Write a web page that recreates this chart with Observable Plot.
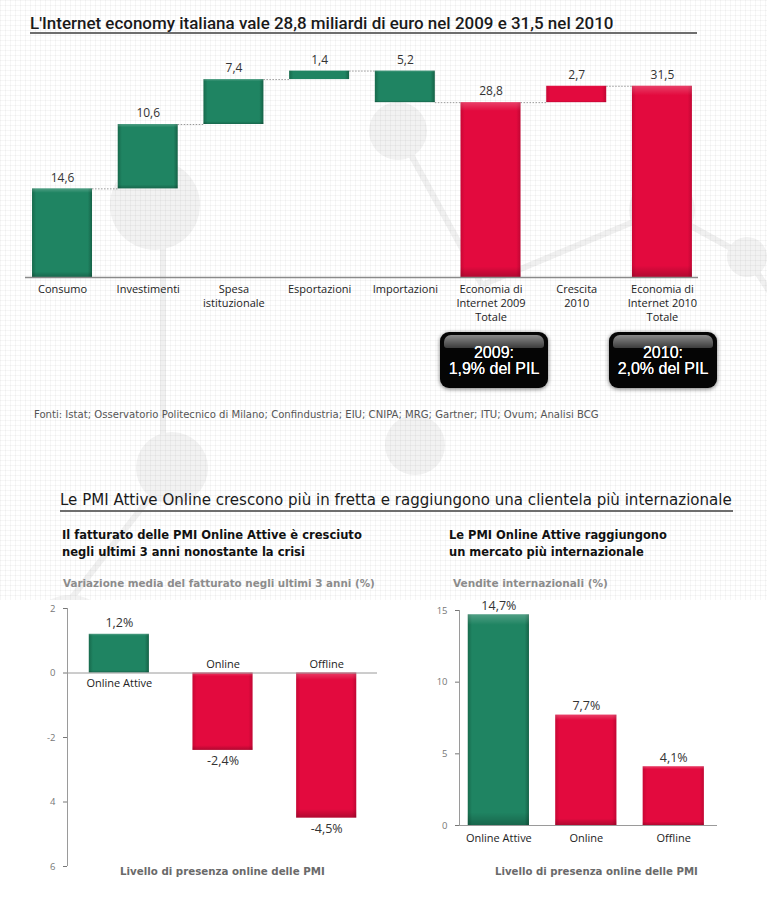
<!DOCTYPE html>
<html lang="it">
<head>
<meta charset="utf-8">
<script src="https://cdn.jsdelivr.net/npm/d3@7"></script>
<script src="https://cdn.jsdelivr.net/npm/@observablehq/plot@0.6"></script>
<style>
  html, body { margin: 0; padding: 0; background: #fff; }
  #page { position: relative; width: 767px; height: 897px; overflow: hidden; background: #fff; font-family: "Open Sans", sans-serif; }
  #grid { position: absolute; left: 0; top: 0; width: 767px; height: 600px;
    background-image: linear-gradient(to right, rgba(0,0,0,0.035) 1px, transparent 1px),
                      linear-gradient(to bottom, rgba(0,0,0,0.035) 1px, transparent 1px);
    background-size: 5px 5px; }
  #decor { position: absolute; left: 0; top: 0; }
  .txt { position: absolute; white-space: nowrap; }
  .title1 { font-family: Roboto, "Liberation Sans", sans-serif; font-weight: 500; font-size: 15px; line-height: 18px; color: #1a1a1a; }
  .rule { position: absolute; height: 2px; background: #6e6e6e; }
  .fonti { font-family: "DejaVu Sans Condensed", "DejaVu Sans", sans-serif; font-size: 10px; line-height: 12px; color: #555; }
  .title2 { font-family: "DejaVu Sans", sans-serif; font-size: 14px; line-height: 18px; color: #1a1a1a; }
  .sub { font-family: "DejaVu Sans Condensed", "DejaVu Sans", sans-serif; font-weight: bold; font-size: 12px; line-height: 17px; color: #111; }
  .unit { font-family: "DejaVu Sans", sans-serif; font-weight: bold; font-size: 9.5px; line-height: 12px; color: #8c8c8c; }
  .xtitle { font-family: "DejaVu Sans", sans-serif; font-weight: bold; font-size: 9.5px; line-height: 12px; color: #6a6a6a; }
  .pil { position: absolute; width: 108px; height: 56px; border-radius: 9px; background: #050505;
    box-shadow: 0 1px 4px rgba(0,0,0,0.55); color: #fff; font-family: "Liberation Sans", sans-serif;
    font-size: 16px; line-height: 15.5px; text-align: center; box-sizing: border-box; padding-top: 13px;
    text-shadow: 0 0 0.6px #fff; }
  .pil::before { content: ""; position: absolute; left: 4px; right: 4px; top: 3px; height: 13px; border-radius: 7px 7px 3px 3px;
    background: linear-gradient(#8a8a8a, #3c3c3c); }
  .pil span { position: relative; }
  .chart { position: absolute; }
</style>
</head>
<body>
<div id="page">
  <svg id="decor" width="767" height="600">
    <g fill="#f2f2f2" stroke="#f0f0f0" stroke-width="6">
      <line x1="163" y1="205" x2="163" y2="445"/>
      <line x1="175" y1="465" x2="70" y2="600"/>
      <line x1="398" y1="131" x2="482" y2="285"/>
      <line x1="482" y1="285" x2="662" y2="210"/>
      <line x1="662" y1="210" x2="747" y2="257"/>
      <line x1="747" y1="257" x2="775" y2="300"/>
      <circle cx="155" cy="205" r="45" stroke="none"/>
      <circle cx="398" cy="131" r="29" stroke="none"/>
      <circle cx="662" cy="210" r="33" stroke="none"/>
      <circle cx="747" cy="257" r="20" stroke="none"/>
      <circle cx="172" cy="468" r="36" stroke="none"/>
      <circle cx="415" cy="445" r="30" stroke="none"/>
      <circle cx="70" cy="640" r="45" stroke="none"/>
    </g>
  </svg>
  <div id="grid"></div>
  <svg width="0" height="0" style="position:absolute">
    <defs>
      <linearGradient id="barGreen" x1="0" x2="1" y1="0" y2="0">
        <stop offset="0" stop-color="#176a4c"/>
        <stop offset="0.07" stop-color="#1f8462"/>
        <stop offset="0.93" stop-color="#1f8462"/>
        <stop offset="1" stop-color="#166247"/>
      </linearGradient>
      <linearGradient id="barRed" x1="0" x2="1" y1="0" y2="0">
        <stop offset="0" stop-color="#c80735"/>
        <stop offset="0.07" stop-color="#e30a3e"/>
        <stop offset="0.93" stop-color="#e30a3e"/>
        <stop offset="1" stop-color="#c10633"/>
      </linearGradient>
      <linearGradient id="barShade" x1="0" x2="0" y1="0" y2="1">
        <stop offset="0" stop-color="#fff" stop-opacity="0.22"/>
        <stop offset="0.05" stop-color="#fff" stop-opacity="0"/>
        <stop offset="0.94" stop-color="#000" stop-opacity="0"/>
        <stop offset="1" stop-color="#000" stop-opacity="0.22"/>
      </linearGradient>
    </defs>
  </svg>

  <div class="txt title1" id="t1" style="left:30px; top:14px;">L'Internet economy italiana vale 28,8 miliardi di euro nel 2009 e 31,5 nel 2010</div>
  <div class="rule" style="left:30px; top:32px; width:667px;"></div>
  <div class="chart" id="waterfall" style="left:0; top:40px;"></div>
  <div class="pil" style="left:440px; top:332px;"><span>2009:<br>1,9% del PIL</span></div>
  <div class="pil" style="left:609px; top:332px;"><span>2010:<br>2,0% del PIL</span></div>
  <div class="txt fonti" id="fonti" style="left:34px; top:409px;">Fonti: Istat; Osservatorio Politecnico di Milano; Confindustria; EIU; CNIPA; MRG; Gartner; ITU; Ovum; Analisi BCG</div>

  <div class="txt title2" id="t2" style="left:60px; top:491px;">Le PMI Attive Online crescono più in fretta e raggiungono una clientela più internazionale</div>
  <div class="rule" style="left:60px; top:510px; width:673px;"></div>
  <div class="txt sub" id="subL" style="left:62px; top:526px;">Il fatturato delle PMI Online Attive è cresciuto<br>negli ultimi 3 anni nonostante la crisi</div>
  <div class="txt sub" id="subR" style="left:449px; top:526px;">Le PMI Online Attive raggiungono<br>un mercato più internazionale</div>
  <div class="txt unit" id="unitL" style="left:63px; top:577px;">Variazione media del fatturato negli ultimi 3 anni (%)</div>
  <div class="txt unit" id="unitR" style="left:453px; top:577px;">Vendite internazionali (%)</div>

  <div class="chart" id="growth" style="left:0; top:595px;"></div>
  <div class="chart" id="export" style="left:400px; top:595px;"></div>
  <div class="txt xtitle" id="xtL" style="left:120px; top:865px;">Livello di presenza online delle PMI</div>
  <div class="txt xtitle" id="xtR" style="left:495px; top:866px;">Livello di presenza online delle PMI</div>
</div>

<script>
// ---- Internet economy waterfall (miliardi di euro) ----
const wfCategories = [
  "Consumo", "Investimenti", "Spesa\nistituzionale", "Esportazioni", "Importazioni",
  "Economia di\nInternet 2009\nTotale", "Crescita\n2010", "Economia di\nInternet 2010\nTotale"
];
const wfValues = [14.6, 10.6, 7.4, 1.4, -5.2, 28.8, 2.7, 31.5];
const wfIsTotal = [false, false, false, false, false, true, false, true];
const wfSeries = ["componente", "componente", "componente", "componente", "componente", "economia", "economia", "economia"];

// ---- PMI charts ----
const pmiCategories = ["Online Attive", "Online", "Offline"];
const pmiSeries = ["attive", "tradizionale", "tradizionale"];
const revenueGrowth = [1.2, -2.4, -4.5];           // variazione media del fatturato (%)
const growthTicks = [2, 0, -2, -4, -6];
const growthTickLabels = ["2", "0", "-2", "4", "6"];
const exportShare = [14.7, 7.7, 4.1];              // vendite internazionali (%)
const exportTicks = [0, 5, 10, 15];

const GREEN = "url(#barGreen)";
const RED = "url(#barRed)";
const SHADE = "url(#barShade)";
const fmt = v => (v < 0 ? "-" : "") + Math.abs(v).toFixed(1).replace(".", ",");

// running totals for the waterfall
let level = 0;
const wfRows = wfValues.map((v, i) => {
  const start = wfIsTotal[i] ? 0 : level;
  const end = wfIsTotal[i] ? v : level + v;
  level = end;
  return {i, label: wfCategories[i], value: v, lo: Math.min(start, end), hi: Math.max(start, end), end, series: wfSeries[i]};
});
const wfHalf = 0.35;
const wfLinks = wfRows.slice(0, -1).map(d => ({x1: d.i + wfHalf, x2: d.i + 1 - wfHalf, y: d.end}));

const baseStyle = {background: "transparent", fontFamily: "'Open Sans', sans-serif", overflow: "visible"};

const waterfall = Plot.plot({
  width: 767, height: 290,
  marginLeft: 25, marginRight: 69, marginTop: 24.5, marginBottom: 53,
  x: {type: "linear", domain: [-0.432, 7.421], axis: null},
  y: {domain: [0, 35], axis: null},
  style: baseStyle,
  marks: [
    Plot.ruleY(wfLinks, {x1: "x1", x2: "x2", y: "y", stroke: "#9a9a9a", strokeWidth: 1, strokeDasharray: "1.5,1.5"}),
    Plot.rect(wfRows.filter(d => d.series === "componente"), {x1: d => d.i - wfHalf, x2: d => d.i + wfHalf, y1: "lo", y2: "hi", fill: GREEN}),
    Plot.rect(wfRows.filter(d => d.series === "economia"), {x1: d => d.i - wfHalf, x2: d => d.i + wfHalf, y1: "lo", y2: "hi", fill: RED}),
    Plot.rect(wfRows, {x1: d => d.i - wfHalf, x2: d => d.i + wfHalf, y1: "lo", y2: "hi", fill: SHADE}),
    Plot.ruleY([0], {stroke: "#8a8a8a", strokeWidth: 1.5}),
    Plot.text(wfRows, {x: "i", y: "hi", text: d => fmt(Math.abs(d.value)), dy: -11, fontSize: 12, fill: "#333"}),
    Plot.text(wfRows, {x: "i", y: 0, text: "label", lineAnchor: "top", dy: 6, lineHeight: 1.27, fontSize: 11, fill: "#222"})
  ]
});
document.getElementById("waterfall").append(waterfall);

// ---- revenue growth ----
const growthRows = pmiCategories.map((c, i) => ({i, c, v: revenueGrowth[i], series: pmiSeries[i]}));
const gHalf = 0.29;
const growth = Plot.plot({
  width: 390, height: 290,
  marginLeft: 67, marginRight: 13, marginTop: 13, marginBottom: 19,
  x: {type: "linear", domain: [-0.5, 2.49], axis: null},
  y: {domain: [-6, 2], axis: null},
  style: baseStyle,
  marks: [
    Plot.rect(growthRows.filter(d => d.series === "attive"), {x1: d => d.i - gHalf, x2: d => d.i + gHalf, y1: 0, y2: "v", fill: GREEN}),
    Plot.rect(growthRows.filter(d => d.series !== "attive"), {x1: d => d.i - gHalf, x2: d => d.i + gHalf, y1: 0, y2: "v", fill: RED}),
    Plot.rect(growthRows, {x1: d => d.i - gHalf, x2: d => d.i + gHalf, y1: 0, y2: "v", fill: SHADE}),
    Plot.ruleY([0], {stroke: "#9a9a9a", strokeWidth: 1}),
    Plot.ruleX([-0.5], {y1: -6, y2: 2, stroke: "#9a9a9a", strokeWidth: 1}),
    Plot.axisY({ticks: growthTicks, tickFormat: d => growthTickLabels[growthTicks.indexOf(d)], tickSize: 4, tickPadding: 8, fontSize: 9.5, color: "#777", label: null}),
    Plot.text(growthRows.filter(d => d.v >= 0), {x: "i", y: "v", text: d => fmt(d.v) + "%", dy: -11, fontSize: 12.5, fill: "#333"}),
    Plot.text(growthRows.filter(d => d.v < 0), {x: "i", y: "v", text: d => fmt(d.v) + "%", dy: 11, fontSize: 12.5, fill: "#333"}),
    Plot.text(growthRows.filter(d => d.v >= 0), {x: "i", y: 0, text: "c", dy: 10, fontSize: 11, fill: "#222"}),
    Plot.text(growthRows.filter(d => d.v < 0), {x: "i", y: 0, text: "c", dy: -9, fontSize: 11, fill: "#222"})
  ]
});
document.getElementById("growth").append(growth);

// ---- international sales ----
const exportRows = pmiCategories.map((c, i) => ({i, c, v: exportShare[i], series: pmiSeries[i]}));
const eHalf = 0.35;
const exportChart = Plot.plot({
  width: 367, height: 250,
  marginLeft: 59, marginRight: 50, marginTop: 15, marginBottom: 20,
  x: {type: "linear", domain: [-0.45, 2.5], axis: null},
  y: {domain: [0, 15], axis: null},
  style: baseStyle,
  marks: [
    Plot.rect(exportRows.filter(d => d.series === "attive"), {x1: d => d.i - eHalf, x2: d => d.i + eHalf, y1: 0, y2: "v", fill: GREEN}),
    Plot.rect(exportRows.filter(d => d.series !== "attive"), {x1: d => d.i - eHalf, x2: d => d.i + eHalf, y1: 0, y2: "v", fill: RED}),
    Plot.rect(exportRows, {x1: d => d.i - eHalf, x2: d => d.i + eHalf, y1: 0, y2: "v", fill: SHADE}),
    Plot.ruleY([0], {stroke: "#9a9a9a", strokeWidth: 1}),
    Plot.ruleX([-0.45], {y1: 0, y2: 15, stroke: "#9a9a9a", strokeWidth: 1}),
    Plot.axisY({ticks: exportTicks, tickSize: 4, tickPadding: 8, fontSize: 9.5, color: "#777", label: null}),
    Plot.text(exportRows, {x: "i", y: "v", text: d => fmt(d.v) + "%", dy: -9, fontSize: 12.5, fill: "#333"}),
    Plot.text(exportRows, {x: "i", y: 0, text: "c", dy: 13, fontSize: 11, fill: "#222"})
  ]
});
document.getElementById("export").append(exportChart);

// scale the HTML headings so each spans its column
function fitWidth(id, target) {
  const el = document.getElementById(id);
  const w = el.getBoundingClientRect().width;
  const fs = parseFloat(getComputedStyle(el).fontSize);
  el.style.fontSize = (fs * target / w).toFixed(2) + "px";
}
[["t1", 584], ["fonti", 565], ["t2", 672], ["subL", 300], ["subR", 218],
 ["unitL", 312], ["unitR", 155], ["xtL", 205], ["xtR", 203]].forEach(([id, w]) => fitWidth(id, w));
</script>
</body>
</html>
